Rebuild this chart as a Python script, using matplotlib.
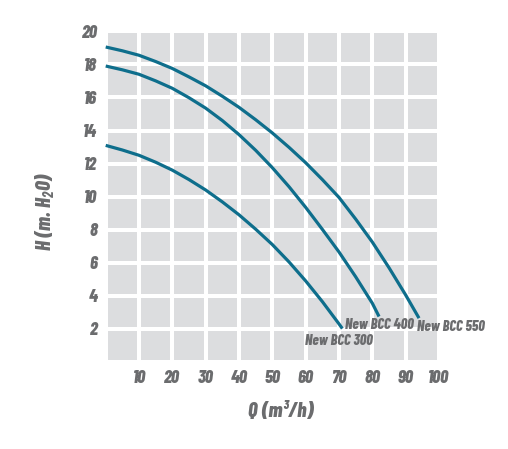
import matplotlib
matplotlib.use("Agg")
import matplotlib.pyplot as plt
from matplotlib import font_manager as fm

# Data
q_300 = [0, 5, 10, 15, 20, 25, 30, 35, 40, 45, 50, 55, 60, 65, 70, 71]
h_300 = [13.1, 12.82, 12.5, 12.08, 11.6, 11.03, 10.4, 9.68, 8.9, 8.03, 7.1, 6.05, 4.9, 3.65, 2.3, 2.02]

q_400 = [0, 5, 10, 15, 20, 25, 30, 35, 40, 45, 50, 55, 60, 65, 70, 75, 80, 82]
h_400 = [17.9, 17.67, 17.4, 17.0, 16.55, 15.98, 15.35, 14.6, 13.75, 12.8, 11.75, 10.6, 9.35, 8.02, 6.65, 5.15, 3.55, 2.75]

q_550 = [0, 5, 10, 15, 20, 25, 30, 35, 40, 45, 50, 55, 60, 65, 70, 75, 80, 85, 90, 94]
h_550 = [19.05, 18.82, 18.55, 18.17, 17.75, 17.24, 16.7, 16.07, 15.4, 14.65, 13.85, 12.98, 12.05, 11.03, 9.95, 8.64, 7.25, 5.7, 4.05, 2.65]

series_names = ["New BCC 300", "New BCC 400", "New BCC 550"]
x_ticks = [10, 20, 30, 40, 50, 60, 70, 80, 90, 100]
y_ticks = [2, 4, 6, 8, 10, 12, 14, 16, 18, 20]

LINE = "#0e6e8c"
TXT = "#6b6c6e"
BG = "#dcdddf"
FAMILIES = ["Barlow Condensed", "DejaVu Sans"]
font = dict(family=FAMILIES, weight=800, style="italic")

plt.rcParams["mathtext.fontset"] = "custom"
plt.rcParams["mathtext.rm"] = "Barlow Condensed:italic:bold"
plt.rcParams["mathtext.it"] = "Barlow Condensed:italic:bold"
plt.rcParams["mathtext.default"] = "rm"

fig = plt.figure(figsize=(5.08, 4.49), dpi=100)
ax = fig.add_axes([0.2081, 0.1938, 0.6561, 0.7365])
ax.set_facecolor(BG)
ax.set_xlim(0, 100)
ax.set_ylim(0, 20)
ax.set_xticks(list(range(0, 101, 10)))
ax.set_yticks(list(range(0, 21, 2)))
ax.grid(True, color="white", linewidth=2.9)
ax.set_axisbelow(True)
for s in ax.spines.values():
    s.set_visible(False)
ax.tick_params(length=0, pad=6)
ax.set_xticklabels([""] + [str(v) for v in x_ticks])
ax.set_yticklabels([""] + [str(v) for v in y_ticks])
for lab in ax.get_xticklabels() + ax.get_yticklabels():
    lab.set_fontproperties(fm.FontProperties(size=13, **font))
    lab.set_color(TXT)

for q, h in [(q_300, h_300), (q_400, h_400), (q_550, h_550)]:
    ax.plot(q, h, color=LINE, linewidth=2.3, solid_capstyle="butt",
            solid_joinstyle="round", clip_on=False)

# curve end labels
ax.text(q_300[-1] - 1.0, h_300[-1] - 0.35, series_names[0], ha="center", va="top",
        color=TXT, fontsize=10.5, **font)
ax.text(q_400[-1] + 0.2, h_400[-1] - 0.1, series_names[1], ha="center", va="top",
        color=TXT, fontsize=10.5, **font)
ax.text(q_550[-1] - 0.5, h_550[-1] - 0.1, series_names[2], ha="left", va="top",
        color=TXT, fontsize=10.5, **font)

xl = ax.set_xlabel("Q (m³/h)", color=TXT, fontsize=15, **font)
yl = ax.set_ylabel("H (m. H$_2$O)", color=TXT, fontsize=15, **font)
ax.xaxis.set_label_coords(0.526, -0.151)
ax.yaxis.set_label_coords(-0.182, 0.454)
xl.set_va("center")
yl.set_va("center")
yl.set_ha("center")

fig.savefig("out.png", dpi=100, facecolor="white")
